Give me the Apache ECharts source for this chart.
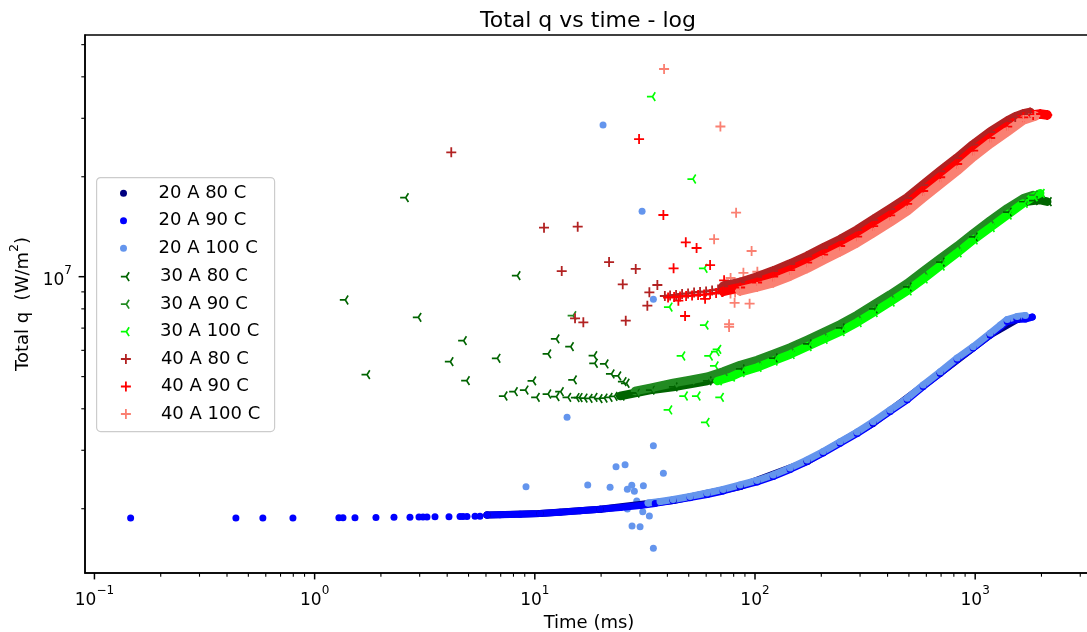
<!DOCTYPE html>
<html><head><meta charset="utf-8">
<script src="https://cdn.jsdelivr.net/npm/echarts@6/dist/echarts.min.js"></script>
<style>html,body{margin:0;padding:0;background:#fff}#c{width:1087px;height:632px}</style>
</head><body><div id="c"></div>
<script>
// ---------------- data (time in ms, total q in W/m^2) ----------------
const seriesNames = ['20 A 80 C','20 A 90 C','20 A 100 C','30 A 80 C','30 A 90 C','30 A 100 C','40 A 80 C','40 A 90 C','40 A 100 C'];
const seriesColors = ['#000080','#0000ff','#6495ed','#006400','#228b22','#00ff00','#b22222','#ff0000','#fa8072'];

// 20 A
const c20A80C = [[6.065,1.915e6],[10.56,1.935e6],[19.78,1.993e6],[42.46,2.118e6],[85.58,2.334e6],[172.5,2.776e6],[344.1,3.620e6],[693.5,5.121e6],[1170,6.675e6],[1551,7.430e6]];
const s20A90C = [[0.146,1.875e6],[0.439,1.876e6],[0.582,1.876e6],[0.797,1.877e6],[1.289,1.878e6],[1.345,1.878e6],[1.525,1.879e6],[1.899,1.883e6],[2.293,1.884e6],[2.710,1.886e6],[2.978,1.888e6],[3.105,1.888e6],[3.238,1.889e6],[3.521,1.891e6],[4.076,1.893e6],[4.574,1.894e6],[4.719,1.895e6],[4.920,1.895e6],[5.350,1.897e6],[5.637,1.898e6]];
const c20A90C = [[6.065,1.915e6],[6.950,1.918e6],[8.566,1.924e6],[10.56,1.935e6],[13.02,1.953e6],[16.05,1.972e6],[19.78,1.993e6],[24.39,2.018e6],[30.06,2.046e6],[35.17,2.075e6],[42.46,2.118e6],[50.71,2.160e6],[60.59,2.208e6],[71.65,2.262e6],[85.58,2.334e6],[102.2,2.408e6],[120.9,2.502e6],[144.4,2.627e6],[172.5,2.776e6],[203.9,2.944e6],[243.6,3.150e6],[291.0,3.371e6],[344.1,3.620e6],[411.0,3.926e6],[491.0,4.258e6],[580.5,4.670e6],[693.5,5.121e6],[828.3,5.630e6],[979.3,6.098e6],[1170,6.675e6],[1398,7.328e6],[1551,7.430e6],[1688,7.456e6],[1816,7.560e6]];
const s20A100C = [[20.41,2.863e7],[30.70,1.574e7],[34.55,8.55e6],[14.01,3.772e6],[34.55,3.097e6],[23.38,2.678e6],[25.70,2.715e6],[38.36,2.557e6],[9.120,2.331e6],[17.39,2.359e6],[21.97,2.321e6],[27.56,2.353e6],[31.12,2.347e6],[26.32,2.289e6],[28.32,2.258e6],[29.04,2.111e6],[26.32,1.997e6],[30.92,1.960e6],[33.13,1.902e6],[27.64,1.774e6],[30.06,1.766e6],[34.55,1.520e6]];
const c20A100C = [[32.69,2.082e6],[37.06,2.103e6],[42.46,2.133e6],[50.71,2.178e6],[60.59,2.231e6],[71.65,2.286e6],[85.58,2.359e6],[102.2,2.433e6],[120.9,2.528e6],[144.4,2.654e6],[172.5,2.805e6],[203.9,2.975e6],[243.6,3.184e6],[291.0,3.406e6],[344.1,3.658e6],[411.0,3.967e6],[491.0,4.302e6],[580.5,4.718e6],[693.5,5.175e6],[828.3,5.689e6],[979.3,6.154e6],[1170,6.754e6],[1302,7.153e6],[1398,7.430e6],[1551,7.587e6],[1688,7.640e6]];

// 30 A
const s30A80C = [[1.359,8.507e6],[2.554,1.730e7],[1.705,5.069e6],[2.916,7.545e6],[4.076,5.546e6],[4.684,6.416e6],[4.834,4.862e6],[6.664,5.678e6],[8.214,1.007e7],[9.681,4.852e6],[11.33,5.851e6],[12.35,6.493e6],[14.35,6.154e6],[14.81,4.886e6],[18.33,5.781e6],[18.45,5.485e6],[20.63,5.458e6],[21.97,5.093e6],[23.56,5.023e6],[24.90,4.829e6],[25.70,4.775e6],[7.171,4.371e6],[7.986,4.503e6],[8.932,4.556e6],[10.05,4.331e6],[11.33,4.432e6],[12.35,4.350e6],[12.92,4.503e6],[13.96,4.331e6],[15.23,4.325e6],[15.72,4.325e6],[16.56,4.310e6],[17.45,4.300e6],[18.38,4.330e6],[19.37,4.290e6],[20.41,4.310e6],[21.51,4.330e6],[22.66,4.360e6]];
const c30A80C = [[24.39,4.371e6],[28.53,4.463e6],[33.38,4.556e6],[42.46,4.653e6],[60.59,4.852e6],[85.58,5.272e6],[120.9,5.689e6],[172.5,6.270e6],[243.6,7.007e6],[344.1,7.993e6],[491.0,9.311e6],[693.5,1.107e7],[979.3,1.317e7],[1398,1.566e7],[1653,1.679e7],[1834,1.694e7],[1974,1.702e7],[2124,1.682e7]];
const s30A90C = [[14.72,7.630e6]];
const c30A90C = [[28.53,4.525e6],[33.38,4.621e6],[42.46,4.784e6],[50.71,4.886e6],[60.59,4.995e6],[71.65,5.182e6],[85.58,5.420e6],[102.2,5.611e6],[120.9,5.851e6],[144.4,6.119e6],[172.5,6.448e6],[203.9,6.792e6],[243.6,7.189e6],[291.0,7.668e6],[344.1,8.219e6],[411.0,8.839e6],[491.0,9.553e6],[580.5,1.040e7],[693.5,1.136e7],[828.3,1.237e7],[979.3,1.351e7],[1170,1.477e7],[1398,1.607e7],[1653,1.722e7],[1834,1.762e7]];
const s30A100C = [[33.73,3.485e7],[51.51,1.969e7],[58.10,1.060e7],[40.29,8.103e6],[58.71,7.144e6],[67.07,6.043e6],[46.02,5.769e6],[61.41,5.769e6],[65.89,5.943e6],[65.21,5.383e6],[47.29,4.371e6],[54.00,4.371e6],[68.93,4.331e6],[40.16,3.967e6],[59.33,3.642e6]];
const c30A100C = [[67.56,4.852e6],[77.40,4.985e6],[85.58,5.139e6],[102.2,5.328e6],[120.9,5.572e6],[144.4,5.830e6],[172.5,6.154e6],[203.9,6.470e6],[243.6,6.830e6],[291.0,7.278e6],[344.1,7.792e6],[411.0,8.390e6],[491.0,9.057e6],[580.5,9.842e6],[693.5,1.077e7],[828.3,1.179e7],[979.3,1.290e7],[1170,1.406e7],[1398,1.534e7],[1653,1.664e7],[1834,1.739e7],[1974,1.783e7]];

// 40 A
const s40A80C = [[4.174,2.370e7],[11.01,1.405e7],[15.66,1.415e7],[13.25,1.040e7],[21.74,1.107e7],[28.73,1.055e7],[25.08,9.486e6],[36.02,9.441e6],[33.13,8.975e6],[32.44,8.178e6],[15.23,7.493e6],[16.61,7.289e6],[25.88,7.370e6],[38.96,8.746e6],[41.15,8.776e6],[43.81,8.807e6],[46.65,8.870e6],[49.66,8.902e6],[52.88,8.962e6],[56.30,8.994e6],[59.96,9.025e6],[63.85,9.088e6],[67.98,9.151e6]];
const c40A80C = [[71.65,9.344e6],[85.58,9.607e6],[102.2,9.980e6],[120.9,1.040e7],[144.4,1.092e7],[172.5,1.152e7],[203.9,1.220e7],[243.6,1.293e7],[291.0,1.382e7],[344.1,1.484e7],[411.0,1.599e7],[491.0,1.726e7],[580.5,1.889e7],[693.5,2.078e7],[828.3,2.277e7],[979.3,2.498e7],[1170,2.728e7],[1398,2.938e7],[1520,3.027e7],[1653,3.091e7],[1778,3.123e7]];
const s40A90C = [[29.75,2.598e7],[38.36,1.534e7],[48.49,1.269e7],[54.28,1.220e7],[42.68,1.060e7],[62.52,1.084e7],[72.39,9.754e6],[44.87,8.467e6],[48.13,7.614e6],[59.33,8.578e6],[40.29,8.655e6],[42.91,8.685e6],[45.67,8.717e6],[48.64,8.746e6],[51.79,8.776e6],[55.14,8.807e6],[58.72,8.839e6],[62.52,8.870e6],[66.57,8.932e6],[70.88,8.994e6]];
const c40A90C = [[71.65,9.025e6],[85.58,9.278e6],[102.2,9.605e6],[120.9,1.000e7],[144.4,1.047e7],[172.5,1.102e7],[203.9,1.166e7],[243.6,1.237e7],[291.0,1.321e7],[344.1,1.421e7],[411.0,1.529e7],[491.0,1.656e7],[580.5,1.812e7],[693.5,1.993e7],[828.3,2.185e7],[979.3,2.396e7],[1170,2.617e7],[1398,2.830e7],[1653,3.021e7],[1834,3.069e7],[1974,3.091e7],[2124,3.069e7]];
const s40A100C = [[38.64,4.223e7],[69.64,2.834e7],[82.06,1.559e7],[65.21,1.297e7],[96.51,1.195e7],[88.58,1.027e7],[102.5,1.035e7],[77.47,9.910e6],[80.78,8.344e6],[94.51,8.291e6],[76.27,7.189e6],[76.27,7.056e6],[77.40,8.902e6],[81.21,8.962e6]];
const c40A100C = [[85.58,9.057e6],[102.2,9.311e6],[120.9,9.592e6],[144.4,1.005e7],[172.5,1.060e7],[203.9,1.123e7],[243.6,1.190e7],[291.0,1.268e7],[344.1,1.357e7],[411.0,1.461e7],[491.0,1.580e7],[580.5,1.732e7],[693.5,1.902e7],[828.3,2.088e7],[979.3,2.298e7],[1170,2.519e7],[1398,2.734e7],[1653,2.965e7],[1873,3.048e7]];

// axis ticks
const xMajorTicks = [0.1, 1, 10, 100, 1000];
const xMinorTicks = [0.2,0.3,0.4,0.5,0.6,0.7,0.8,0.9,2,3,4,5,6,7,8,9,20,30,40,50,60,70,80,90,200,300,400,500,600,700,800,900,2000,3000];
const yMajorTicks = [1e7];
const yMinorTicks = [2e6,3e6,4e6,5e6,6e6,7e6,8e6,9e6,2e7,3e7,4e7,5e7];
const X_MIN = 0.0906, X_MAX = 3428, Y_MIN = 1.2806e6, Y_MAX = 5.346e7;

// ---------------- chart ----------------
const FONT = 'DejaVu Sans';
const TRI = 'path://M0,0L-1,0M0,0L0.5,0.8M0,0L0.5,-0.8';
const PLUS = 'path://M-1,0L1,0M0,-1L0,1';
const kinds = ['dot','dot','dot','tri','tri','tri','plus','plus','plus'];
const scatterSets = [null, s20A90C, s20A100C, s30A80C, s30A90C, s30A100C, s40A80C, s40A90C, s40A100C];
const curveSets = [c20A80C, c20A90C, c20A100C, c30A80C, c30A90C, c30A100C, c40A80C, c40A90C, c40A100C];

function markerStyle(i) {
  const c = seriesColors[i], k = kinds[i];
  if (k === 'dot') return { symbol: 'circle', symbolSize: 7, itemStyle: { color: c, borderWidth: 0, opacity: 1 } };
  if (k === 'tri') return { symbol: TRI, symbolSize: [8.3, 8.8], itemStyle: { color: c, borderColor: c, borderWidth: 1.7, opacity: 1 } };
  return { symbol: PLUS, symbolSize: 10, itemStyle: { color: c, borderColor: c, borderWidth: 1.8, opacity: 1 } };
}
const bandWidth = { dot: 7, tri: 8.5, plus: 9.5 };

const series = [];
for (let i = 0; i < 9; i++) {
  const m = markerStyle(i);
  series.push(Object.assign({
    type: 'line', name: seriesNames[i], data: curveSets[i], showSymbol: true,
    lineStyle: { color: seriesColors[i], width: bandWidth[kinds[i]], cap: 'round', join: 'round' },
    silent: true, animation: false, emphasis: { disabled: true }
  }, m));
  if (scatterSets[i]) {
    series.push(Object.assign({
      type: 'scatter', name: seriesNames[i], data: scatterSets[i], silent: true, animation: false,
      emphasis: { disabled: true }
    }, m));
  }
}

function tickSeries(axis, vals, len, w) {
  return {
    type: 'custom', silent: true, clip: false, animation: false, z: 10,
    data: vals.map(v => axis === 'x' ? [v, Y_MIN] : [X_MIN, v]),
    renderItem: function (params, api) {
      const p = api.coord([api.value(0), api.value(1)]);
      const shape = axis === 'x'
        ? { x1: p[0], y1: p[1], x2: p[0], y2: p[1] + len }
        : { x1: p[0] - len, y1: p[1], x2: p[0], y2: p[1] };
      return { type: 'line', shape: shape, style: { stroke: '#000', lineWidth: w } };
    }
  };
}
series.push(tickSeries('x', xMajorTicks, 6.4, 1.5));
series.push(tickSeries('x', xMinorTicks, 3.7, 1.1));
series.push(tickSeries('y', yMajorTicks, 6.4, 1.5));
series.push(tickSeries('y', yMinorTicks, 3.7, 1.1));

function powLabel(v) {
  const l = Math.log10(v), e = Math.round(l);
  if (Math.abs(l - e) > 1e-6) return '';
  return '{b|10}{s|' + (e < 0 ? '\u2212' + (-e) : String(e)) + '}';
}
const labelRich = {
  b: { fontFamily: FONT, fontSize: 17, lineHeight: 24, verticalAlign: 'bottom', color: '#000' },
  s: { fontFamily: FONT, fontSize: 12, lineHeight: 12, verticalAlign: 'top', color: '#000' }
};

function legendFor(idx, top, size) {
  return {
    orient: 'vertical', left: 120, top: top, padding: 0, itemGap: 9.5,
    itemWidth: 60, itemHeight: size, selectedMode: false, z: 6,
    textStyle: { fontFamily: FONT, fontSize: 18, lineHeight: 18, color: '#000' },
    data: idx.map(i => {
      const m = markerStyle(i);
      return { name: seriesNames[i], icon: m.symbol, itemStyle: m.itemStyle };
    })
  };
}

const option = {
  backgroundColor: '#fff',
  animation: false,
  title: { text: 'Total q vs time - log', left: 475, top: 5, textStyle: { fontFamily: FONT, fontSize: 22, fontWeight: 'normal', color: '#000' } },
  grid: { left: 85, right: -6, top: 35, bottom: 59, containLabel: false, outerBoundsMode: 'none', show: true, borderColor: '#000', borderWidth: 1.5, backgroundColor: 'transparent' },
  legend: [legendFor([0,1,2], 184.3, 7), legendFor([3,4,5], 267.7, 8.8), legendFor([6,7,8], 350, 10)],
  graphic: [{ type: 'rect', left: 96, top: 177, z: 5, shape: { width: 178, height: 254, r: 4 }, style: { fill: 'rgba(255,255,255,0.8)', stroke: '#cccccc', lineWidth: 1.2 } }],
  xAxis: {
    type: 'log', logBase: 10, min: X_MIN, max: X_MAX,
    axisLine: { show: true, lineStyle: { color: '#000', width: 1.5 } },
    axisTick: { show: false }, minorTick: { show: false }, splitLine: { show: false },
    axisLabel: { margin: 12, formatter: powLabel, rich: labelRich, color: '#000' },
    name: 'Time (ms)', nameLocation: 'middle', nameGap: 39,
    nameTextStyle: { fontFamily: FONT, fontSize: 18, color: '#000' }
  },
  yAxis: {
    type: 'log', logBase: 10, min: Y_MIN, max: Y_MAX,
    axisLine: { show: true, lineStyle: { color: '#000', width: 1.5 } },
    axisTick: { show: false }, minorTick: { show: false }, splitLine: { show: false },
    axisLabel: { margin: 13, formatter: powLabel, rich: labelRich, color: '#000' },
    name: '{b|Total q  (W/m}{s|2}{b|)}', nameLocation: 'middle', nameGap: 52,
    nameTextStyle: { fontFamily: FONT, fontSize: 18, color: '#000', rich: {
      b: { fontFamily: FONT, fontSize: 18, lineHeight: 24, verticalAlign: 'bottom', color: '#000' },
      s: { fontFamily: FONT, fontSize: 12.5, lineHeight: 12, verticalAlign: 'top', color: '#000' } } }
  },
  series: series
};
const chart = echarts.init(document.getElementById('c'), null, { renderer: 'canvas' });
chart.setOption(option);
</script></body></html>
